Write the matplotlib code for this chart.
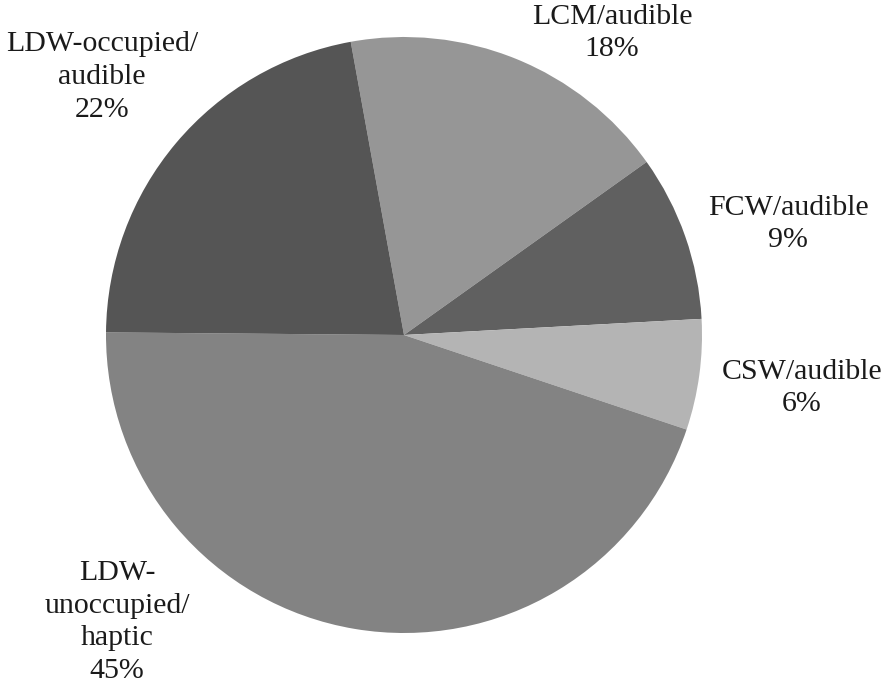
import matplotlib
matplotlib.use("Agg")
from matplotlib import pyplot as plt

# slice data, clockwise from the top
labels = ["LCM/audible", "FCW/audible", "CSW/audible", "LDW-\nunoccupied/\nhaptic", "LDW-occupied/\naudible"]
shares = [18, 9, 6, 45, 22]
colors = ["#969696", "#606060", "#b4b4b4", "#838383", "#555555"]

# label centres in pixel units (y measured from the bottom)
label_pos = [(612, 657), (788, 466), (802, 302), (117, 68), (102, 613)]

plt.rcParams['font.family'] = ['Liberation Serif', 'DejaVu Serif']

fig = plt.figure(figsize=(8.83, 6.9), dpi=100)
ax = fig.add_axes([0, 0, 1, 1])

ax.pie(shares, colors=colors, startangle=100.3, counterclock=False,
       center=(404, 355), radius=298, frame=True,
       wedgeprops=dict(linewidth=0))
ax.set_xlim(0, 883)
ax.set_ylim(0, 690)
ax.set_aspect('equal')
ax.axis('off')

for lab, val, (x, y) in zip(labels, shares, label_pos):
    ax.text(x, y, lab + "\n" + str(val) + "%", ha='center', va='center',
            fontsize=21.5, color='#1a1a1a', linespacing=1.33)

fig.savefig("out.png", dpi=100)
plt.close()
